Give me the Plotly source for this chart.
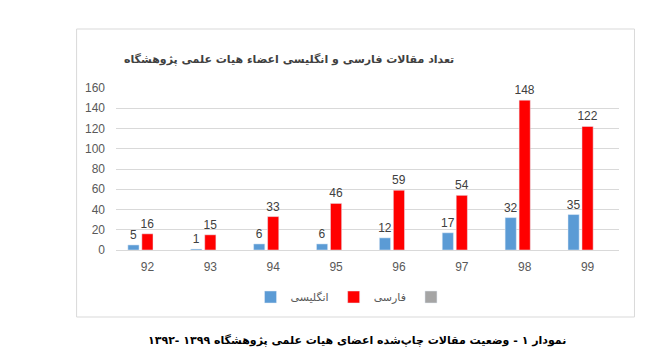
import plotly.graph_objects as go

categories = ["92", "93", "94", "95", "96", "97", "98", "99"]
english = [5, 1, 6, 6, 12, 17, 32, 35]
persian = [16, 15, 33, 46, 59, 54, 148, 122]
empty_series = [None] * 8
y_ticks = [0, 20, 40, 60, 80, 100, 120, 140, 160]

title_text = "تعداد مقالات فارسی و انگلیسی اعضاء هیات علمی پژوهشگاه"
caption_text = "نمودار ۱ - وضعیت مقالات چاپ‌شده اعضای هیات علمی پژوهشگاه ۱۳۹۹ -۱۳۹۲"
name_en = "انگلیسی"
name_fa = "فارسی"

# page body has an 8px margin; work in screenshot pixels and offset
OFF = 8
W, H = 672 - OFF, 360 - OFF
L, R, T, B = 115.5 - OFF, 619.5 - OFF, 88 - OFF, 250 - OFF

def px(x):
    return (x - OFF - L) / (R - L)

def py(y):
    return (B - (y - OFF)) / (B - T)

label_font = dict(family="Liberation Sans", size=12, color="#404040")

fig = go.Figure()
fig.add_trace(go.Bar(x=categories, y=english, name=name_en, marker_color="#5b9bd5",
                     text=english, textposition="outside", textfont=label_font,
                     constraintext="none", cliponaxis=False))
fig.add_trace(go.Bar(x=categories, y=persian, name=name_fa, marker_color="#ff0000",
                     text=persian, textposition="outside", textfont=label_font,
                     constraintext="none", cliponaxis=False))
fig.add_trace(go.Bar(x=categories, y=empty_series, name=" ", marker_color="#a5a5a5",
                     showlegend=True))

fig.update_layout(
    width=W, height=H,
    margin=dict(l=L, r=W - R, t=T, b=H - B, autoexpand=False),
    paper_bgcolor="white", plot_bgcolor="white",
    barmode="group", bargap=0.333, bargroupgap=0.2,
    showlegend=True,
    legend=dict(orientation="h", x=px(355), xanchor="center", y=py(297), yanchor="middle",
                font=dict(family="DejaVu Sans", size=11, color="#595959"),
                traceorder="normal", itemwidth=30, bgcolor="rgba(0,0,0,0)"),
    xaxis=dict(type="category", showgrid=False, showline=True, linecolor="#d9d9d9",
               linewidth=1, ticks="", tickfont=dict(family="Liberation Sans", size=12, color="#595959"),
               ticklabelstandoff=6),
    yaxis=dict(range=[0, 160], tickvals=y_ticks, showgrid=True, gridcolor="#d9d9d9",
               zeroline=False, showline=False, ticks="",
               tickfont=dict(family="Liberation Sans", size=12, color="#595959"),
               ticklabelstandoff=10),
    font=dict(family="DejaVu Sans"),
    shapes=[dict(type="rect", xref="paper", yref="paper",
                 x0=px(76), x1=px(635), y0=py(317), y1=py(29),
                 line=dict(color="#d9d9d9", width=1), fillcolor="rgba(0,0,0,0)", layer="below")],
    annotations=[
        dict(text="<b>" + title_text + "</b>", xref="paper", yref="paper",
             x=px(289), y=py(59), xanchor="center", yanchor="middle", showarrow=False,
             font=dict(family="DejaVu Sans", size=11, color="#404040")),
        dict(text="<b>" + caption_text + "</b>", xref="paper", yref="paper",
             x=px(357), y=py(340), xanchor="center", yanchor="middle", showarrow=False,
             font=dict(family="DejaVu Sans", size=11, color="#000000")),
    ],
)

fig.write_html("out.html")
